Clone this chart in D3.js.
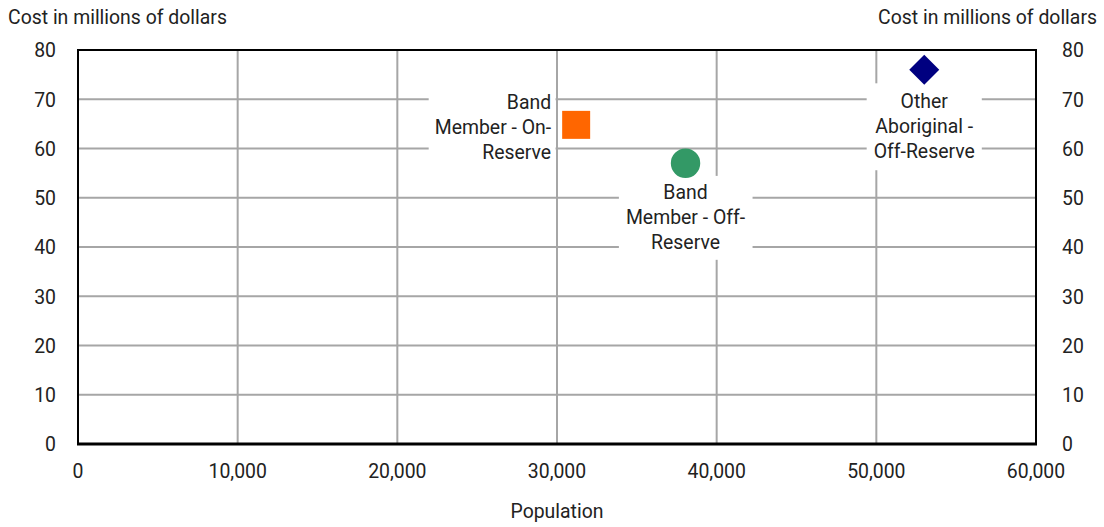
<!DOCTYPE html>
<html><head><meta charset="utf-8">
<script src="https://cdn.jsdelivr.net/npm/d3@7"></script>
<style>
body{margin:0;background:#fff;}
text{font-family:Roboto,"Liberation Sans",sans-serif;fill:#222;}
</style></head>
<body><svg id="c" width="1104" height="527"></svg>
<script>
const categories = ["Band Member - On-Reserve","Band Member - Off-Reserve","Other Aboriginal - Off-Reserve"];
const population = [31200, 38050, 53000];
const cost = [64.8, 57, 76];
const labelLines = [["Band","Member - On-","Reserve"],["Band","Member - Off-","Reserve"],["Other","Aboriginal -","Off-Reserve"]];
const xTicks = [0,10000,20000,30000,40000,50000,60000];
const yTicks = [0,10,20,30,40,50,60,70,80];
const colors = ["#ff6600","#339966","#000080"];

const svg = d3.select("#c");
const L=78, R=1036, T=50, B=444;
const x = d3.scaleLinear().domain([0,60000]).range([L,R]);
const y = d3.scaleLinear().domain([0,80]).range([B,T]);
const fmt = d3.format(",");
const FS = 21;

// determine horizontal condensation so the title matches a condensed face
const probe = svg.append("text").attr("font-size",FS).text("Cost in millions of dollars");
const SX = 219 / probe.node().getComputedTextLength();
probe.remove();

function txt(parent, px, py, s, anchor){
  return parent.append("text")
    .attr("transform",`translate(${px},${py}) scale(${SX},1)`)
    .attr("font-size",FS).attr("text-anchor",anchor||"start").attr("dy","0.35em").text(s);
}

// grid
svg.append("g").selectAll("line").data(xTicks.slice(1,-1)).join("line")
  .attr("x1",d=>x(d)).attr("x2",d=>x(d)).attr("y1",T).attr("y2",B)
  .attr("stroke","#a6a6a6").attr("stroke-width",2);
svg.append("g").selectAll("line").data(yTicks.slice(1,-1)).join("line")
  .attr("x1",L).attr("x2",R).attr("y1",d=>y(d)).attr("y2",d=>y(d))
  .attr("stroke","#a6a6a6").attr("stroke-width",2);

// frame
svg.append("rect").attr("x",L).attr("y",T).attr("width",R-L).attr("height",B-T)
  .attr("fill","none").attr("stroke","#000").attr("stroke-width",2);
svg.append("line").attr("x1",L-1).attr("x2",R+1).attr("y1",B).attr("y2",B)
  .attr("stroke","#000").attr("stroke-width",3);

// axes labels
const gy1 = svg.append("g"), gy2 = svg.append("g"), gx = svg.append("g");
yTicks.forEach(d=>{ txt(gy1,56,y(d),d,"end"); txt(gy2,1062,y(d),d,"start"); });
xTicks.forEach(d=>{ txt(gx,x(d),471,fmt(d),"middle"); });
txt(svg,8,17,"Cost in millions of dollars","start");
txt(svg,1097,17,"Cost in millions of dollars","end");
txt(svg,557,511,"Population","middle");

// data labels with white boxes
const lab = [
  {dx:-25, dy:-23, anchor:"end"},
  {dx:0, dy:28, anchor:"middle"},
  {dx:0, dy:31, anchor:"middle"}
];
const pad = [{l:6,r:4,t:4,b:4},{l:7,r:7,t:3,b:6},{l:7,r:7,t:5,b:7}];
categories.forEach((c,i)=>{
  const px = x(population[i]) + lab[i].dx, py = y(cost[i]) + lab[i].dy;
  const g = svg.append("g").attr("transform",`translate(${px},${py}) scale(${SX},1)`);
  const rect = g.append("rect").attr("fill","#fff");
  const t = g.append("text").attr("font-size",FS).attr("text-anchor",lab[i].anchor);
  labelLines[i].forEach((ln,j)=>{
    t.append("tspan").attr("x",0).attr("y",j*25).attr("dy","0.35em").text(ln);
  });
  const bb = t.node().getBBox();
  rect.attr("x",bb.x-pad[i].l/SX).attr("y",bb.y-pad[i].t)
      .attr("width",bb.width+(pad[i].l+pad[i].r)/SX).attr("height",bb.height+pad[i].t+pad[i].b);
});

// markers
const mk = svg.append("g");
mk.append("path").datum(0)
  .attr("transform",d=>`translate(${x(population[d])},${y(cost[d])})`)
  .attr("d",d3.symbol().type(d3.symbolSquare).size(784)()).attr("fill",colors[0]);
mk.append("path").datum(1)
  .attr("transform",d=>`translate(${x(population[d])},${y(cost[d])})`)
  .attr("d",d3.symbol().type(d3.symbolCircle).size(680)()).attr("fill",colors[1]);
mk.append("path").datum(2)
  .attr("transform",d=>`translate(${x(population[d])},${y(cost[d])}) rotate(45)`)
  .attr("d",d3.symbol().type(d3.symbolSquare).size(450)()).attr("fill",colors[2]);
</script></body></html>
